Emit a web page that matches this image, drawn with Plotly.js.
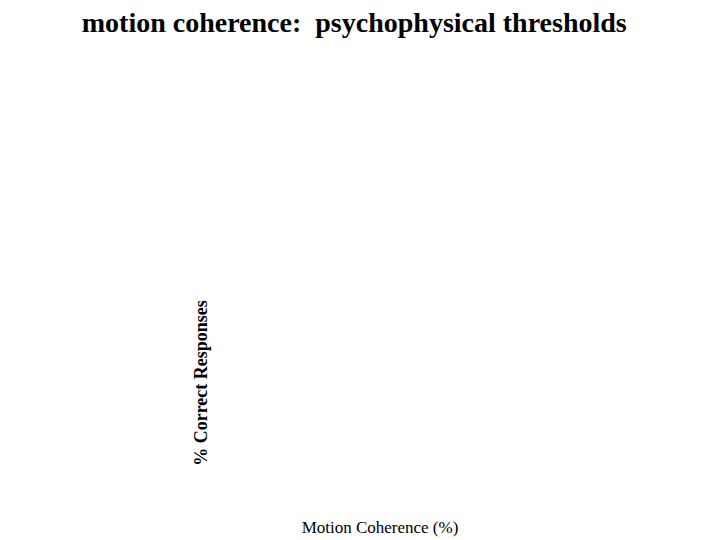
<!DOCTYPE html>
<html>
<head>
<meta charset="utf-8">
<script src="https://cdn.plot.ly/plotly-3.0.1.min.js"></script>
<style>
  html, body { margin: 0; padding: 0; background: #fff; }
  #chart { width: 720px; height: 540px; }
</style>
</head>
<body>
<div id="chart"></div>
<script>
// the reference shows an empty plot: no marks, only titles
const coherence = []
const pctCorrect = []

const serif = 'Liberation Serif, Times New Roman, serif'

const data = [{
  x: coherence,
  y: pctCorrect,
  type: 'scatter',
  mode: 'markers',
  marker: { color: '#000' },
  showlegend: false,
  hoverinfo: 'skip'
}]

const hiddenAxis = {
  showgrid: false,
  zeroline: false,
  showline: false,
  showticklabels: false,
  ticks: ''
}

const layout = {
  width: 720,
  height: 540,
  paper_bgcolor: '#fff',
  plot_bgcolor: '#fff',
  margin: { l: 215, r: 175, t: 253, b: 27 },
  title: {
    text: 'motion coherence:&nbsp; psychophysical thresholds',
    font: { family: serif, size: 28, color: '#000', weight: 'bold' },
    x: 0.492,
    xanchor: 'center',
    y: 0.959,
    yanchor: 'middle'
  },
  xaxis: Object.assign({}, hiddenAxis, {
    title: {
      text: 'Motion Coherence (%)',
      font: { family: serif, size: 17, color: '#000' },
      standoff: 8
    }
  }),
  yaxis: Object.assign({}, hiddenAxis, {
    title: {
      text: '% Correct Responses',
      font: { family: serif, size: 18, color: '#000', weight: 'bold' },
      standoff: 1
    }
  })
}

Plotly.newPlot('chart', data, layout, { displayModeBar: false, staticPlot: true })
</script>
</body>
</html>
